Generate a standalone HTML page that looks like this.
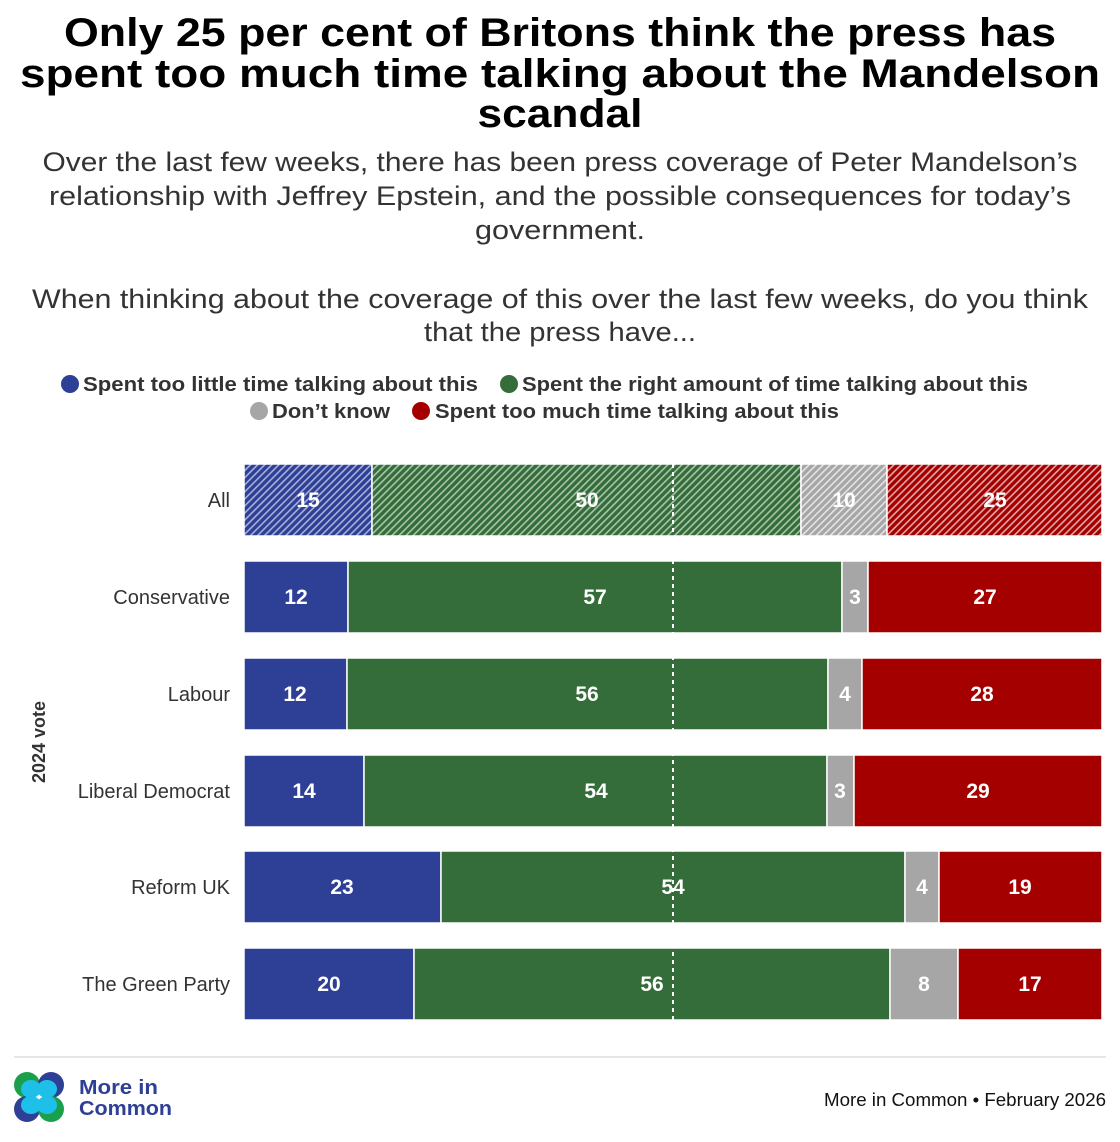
<!DOCTYPE html>
<html><head><meta charset="utf-8"><style>
html,body{margin:0;padding:0;background:#fff;}
svg{display:block;font-family:"Liberation Sans",sans-serif;}
</style></head><body>
<svg width="1120" height="1142" viewBox="0 0 1120 1142" xmlns="http://www.w3.org/2000/svg">
<defs>
<pattern id="hb" width="5" height="5" patternUnits="userSpaceOnUse" patternTransform="rotate(45)"><rect width="5" height="5" fill="#2e3f96"/><rect width="1.6" height="5" fill="#a8b0d8"/></pattern>
<pattern id="hg" width="5" height="5" patternUnits="userSpaceOnUse" patternTransform="rotate(45)"><rect width="5" height="5" fill="#356d3a"/><rect width="1.6" height="5" fill="#a9c4ab"/></pattern>
<pattern id="hy" width="5" height="5" patternUnits="userSpaceOnUse" patternTransform="rotate(45)"><rect width="5" height="5" fill="#a6a6a6"/><rect width="1.6" height="5" fill="#e4e4e4"/></pattern>
<pattern id="hr" width="5" height="5" patternUnits="userSpaceOnUse" patternTransform="rotate(45)"><rect width="5" height="5" fill="#a50000"/><rect width="1.6" height="5" fill="#e0a8a8"/></pattern>
</defs>
<g font-weight="bold" font-size="40" fill="#000" text-anchor="middle">
<text x="560" y="46" textLength="992" lengthAdjust="spacingAndGlyphs">Only 25 per cent of Britons think the press has</text>
<text x="560" y="87" textLength="1080" lengthAdjust="spacingAndGlyphs">spent too much time talking about the Mandelson</text>
<text x="560" y="127" textLength="165" lengthAdjust="spacingAndGlyphs">scandal</text>
</g>
<g font-size="27" fill="#333" text-anchor="middle">
<text x="560" y="171" textLength="1035" lengthAdjust="spacingAndGlyphs">Over the last few weeks, there has been press coverage of Peter Mandelson’s</text>
<text x="560" y="205" textLength="1022" lengthAdjust="spacingAndGlyphs">relationship with Jeffrey Epstein, and the possible consequences for today’s</text>
<text x="560" y="239" textLength="170" lengthAdjust="spacingAndGlyphs">government.</text>
<text x="560" y="308" textLength="1056" lengthAdjust="spacingAndGlyphs">When thinking about the coverage of this over the last few weeks, do you think</text>
<text x="560" y="341" textLength="272" lengthAdjust="spacingAndGlyphs">that the press have...</text>
</g>
<g font-size="20" font-weight="bold" fill="#333">
<circle cx="70" cy="384" r="9" fill="#2e3f96"/><text x="83" y="391" textLength="395" lengthAdjust="spacingAndGlyphs">Spent too little time talking about this</text>
<circle cx="509" cy="384" r="9" fill="#356d3a"/><text x="522" y="391" textLength="506" lengthAdjust="spacingAndGlyphs">Spent the right amount of time talking about this</text>
<circle cx="259" cy="411" r="9" fill="#a6a6a6"/><text x="272" y="418" textLength="118" lengthAdjust="spacingAndGlyphs">Don’t know</text>
<circle cx="421" cy="411" r="9" fill="#a50000"/><text x="435" y="418" textLength="404" lengthAdjust="spacingAndGlyphs">Spent too much time talking about this</text>
</g>
<g stroke="#fff" stroke-width="1.5">
<rect x="244" y="464" width="128" height="72" fill="url(#hb)"/><rect x="372" y="464" width="429" height="72" fill="url(#hg)"/><rect x="801" y="464" width="86" height="72" fill="url(#hy)"/><rect x="887" y="464" width="215" height="72" fill="url(#hr)"/>
<rect x="244" y="561" width="104" height="72" fill="#2e3f96"/><rect x="348" y="561" width="494" height="72" fill="#356d3a"/><rect x="842" y="561" width="26" height="72" fill="#a6a6a6"/><rect x="868" y="561" width="234" height="72" fill="#a50000"/>
<rect x="244" y="658" width="103" height="72" fill="#2e3f96"/><rect x="347" y="658" width="481" height="72" fill="#356d3a"/><rect x="828" y="658" width="34" height="72" fill="#a6a6a6"/><rect x="862" y="658" width="240" height="72" fill="#a50000"/>
<rect x="244" y="755" width="120" height="72" fill="#2e3f96"/><rect x="364" y="755" width="463" height="72" fill="#356d3a"/><rect x="827" y="755" width="27" height="72" fill="#a6a6a6"/><rect x="854" y="755" width="248" height="72" fill="#a50000"/>
<rect x="244" y="851" width="197" height="72" fill="#2e3f96"/><rect x="441" y="851" width="464" height="72" fill="#356d3a"/><rect x="905" y="851" width="34" height="72" fill="#a6a6a6"/><rect x="939" y="851" width="163" height="72" fill="#a50000"/>
<rect x="244" y="948" width="170" height="72" fill="#2e3f96"/><rect x="414" y="948" width="476" height="72" fill="#356d3a"/><rect x="890" y="948" width="68" height="72" fill="#a6a6a6"/><rect x="958" y="948" width="144" height="72" fill="#a50000"/>
</g>
<line x1="673" y1="464" x2="673" y2="1020" stroke="#fff" stroke-width="2" stroke-dasharray="4,4"/>
<g font-size="21" font-weight="bold" fill="#fff" text-anchor="middle">
<text x="308" y="507">15</text><text x="587" y="507">50</text><text x="844" y="507">10</text><text x="995" y="507">25</text>
<text x="296" y="604">12</text><text x="595" y="604">57</text><text x="855" y="604">3</text><text x="985" y="604">27</text>
<text x="295" y="701">12</text><text x="587" y="701">56</text><text x="845" y="701">4</text><text x="982" y="701">28</text>
<text x="304" y="798">14</text><text x="596" y="798">54</text><text x="840" y="798">3</text><text x="978" y="798">29</text>
<text x="342" y="894">23</text><text x="673" y="894">54</text><text x="922" y="894">4</text><text x="1020" y="894">19</text>
<text x="329" y="991">20</text><text x="652" y="991">56</text><text x="924" y="991">8</text><text x="1030" y="991">17</text>
</g>
<g font-size="20" fill="#333" text-anchor="end">
<text x="230" y="507">All</text><text x="230" y="604">Conservative</text><text x="230" y="701">Labour</text>
<text x="230" y="798">Liberal Democrat</text><text x="230" y="894">Reform UK</text><text x="230" y="991">The Green Party</text>
</g>
<text transform="translate(45,742) rotate(-90)" font-size="18" font-weight="bold" fill="#333" text-anchor="middle">2024 vote</text>
<line x1="14" y1="1057" x2="1106" y2="1057" stroke="#ddd" stroke-width="1.5"/>
<g>
<circle cx="27" cy="1085" r="13" fill="#1aa04a"/><circle cx="51" cy="1085" r="13" fill="#2e3f96"/>
<circle cx="27" cy="1109" r="13" fill="#2e3f96"/><circle cx="51" cy="1109" r="13" fill="#1aa04a"/>
<ellipse cx="31" cy="1089" rx="10" ry="9" fill="#1ec0ea"/><ellipse cx="47" cy="1089" rx="10" ry="9" fill="#1ec0ea"/>
<ellipse cx="31" cy="1105" rx="10" ry="9" fill="#1ec0ea"/><ellipse cx="47" cy="1105" rx="10" ry="9" fill="#1ec0ea"/>
</g>
<g font-size="20" font-weight="bold" fill="#2e3f96"><text x="79" y="1094" textLength="79" lengthAdjust="spacingAndGlyphs">More in</text><text x="79" y="1115" textLength="93" lengthAdjust="spacingAndGlyphs">Common</text></g>
<text x="1106" y="1106" font-size="18" fill="#111" text-anchor="end" textLength="282" lengthAdjust="spacingAndGlyphs">More in Common • February 2026</text>
</svg>
</body></html>
